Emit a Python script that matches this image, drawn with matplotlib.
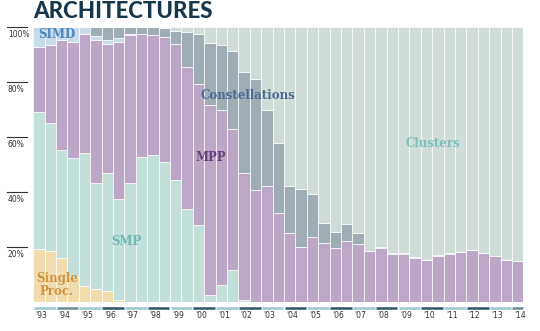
import matplotlib
matplotlib.use("Agg")
import matplotlib.pyplot as plt
import numpy as np

years = ["'93", "'94", "'95", "'96", "'97", "'98", "'99", "'00", "'01", "'02", "'03",
         "'04", "'05", "'06", "'07", "'08", "'09", "'10", "'11", "'12", "'13", "'14"]

single = [19.2, 18.3, 15.8, 8.9, 5.6, 4.4, 3.7, 0.7, 0, 0, 0,
          0, 0, 0, 0, 0, 0, 0, 0, 0, 0, 0,
          0, 0, 0, 0, 0, 0, 0, 0, 0, 0, 0,
          0, 0, 0, 0, 0, 0, 0, 0, 0, 0]
smp = [49.8, 46.7, 39.4, 43.4, 48.5, 38.6, 43.2, 36.5, 43.0, 52.6, 53.2,
       50.8, 44.1, 33.8, 27.7, 2.2, 6.1, 11.4, 0.7, 0, 0, 0,
       0, 0, 0, 0, 0, 0, 0, 0, 0, 0, 0,
       0, 0, 0, 0, 0, 0, 0, 0, 0, 0]
mpp = [23.7, 28.6, 40.2, 42.3, 43.5, 52.4, 46.8, 57.4, 54.0, 45.0, 43.8,
       45.6, 49.6, 51.6, 51.4, 69.3, 63.8, 51.3, 46.2, 40.5, 42.1, 32.4,
       25.1, 19.7, 23.4, 21.3, 19.5, 21.9, 20.8, 18.3, 19.6, 17.4, 17.4,
       16.0, 15.0, 16.5, 17.4, 18.0, 18.6, 17.8, 16.6, 15.2, 14.8]
simd = [7.3, 6.4, 4.6, 5.4, 2.4, 1.3, 1.5, 1.5, 0.5, 0, 0,
        0, 0, 0, 0, 0, 0, 0, 0, 0, 0, 0,
        0, 0, 0, 0, 0, 0, 0, 0, 0, 0, 0,
        0, 0, 0, 0, 0, 0, 0, 0, 0, 0]
constellations = [0, 0, 0, 0, 0, 3.3, 4.8, 3.9, 2.5, 2.4, 3.0,
                  3.2, 4.9, 12.8, 18.3, 22.8, 23.4, 28.6, 36.7, 40.7, 27.8, 25.5,
                  17.0, 21.4, 15.6, 7.2, 5.8, 6.2, 4.2, 0.2, 0.3, 0.3, 0.2,
                  0.3, 0, 0.3, 0.2, 0, 0, 0, 0, 0, 0]
clusters = [0, 0, 0, 0, 0, 0, 0, 0, 0, 0, 0,
            0.4, 1.4, 1.8, 2.6, 5.7, 6.7, 8.7, 16.4, 18.8, 30.1, 42.1,
            57.9, 58.9, 61.0, 71.5, 74.7, 71.9, 75.0, 81.5, 80.1, 82.3, 82.4,
            83.7, 85.0, 83.2, 82.4, 82.0, 81.4, 82.2, 83.4, 84.8, 85.2]

series = [
    ("Single\nProc.", single, "#f1dcae", "#d09440"),
    ("SMP", smp, "#c3dfd9", "#6cb9b1"),
    ("MPP", mpp, "#bca8c6", "#6b3c7e"),
    ("SIMD", simd, "#c7dbe8", "#4d86c2"),
    ("Constellations", constellations, "#a0adb5", "#4b6b92"),
    ("Clusters", clusters, "#cfdcd8", "#7cbfb8"),
]

fig = plt.figure(figsize=(5.4, 3.31), dpi=100)
ax = fig.add_axes([33.3 / 540, 1 - 301.5 / 331, 490 / 540, 274.5 / 331])

x = np.arange(len(mpp))
bottom = np.zeros(len(x))
for name, vals, col, _ in series:
    v = np.array(vals, dtype=float)
    ax.bar(x, v, bottom=bottom, width=1.0, color=col, edgecolor="white",
           linewidth=0.5)
    bottom += v

ax.set_xlim(-0.5, len(x) - 0.5)
ax.set_ylim(0, 100)
for s in ax.spines.values():
    s.set_visible(False)
ax.set_xticks([])
ax.set_yticks([])

narrow = ["Liberation Sans Narrow", "DejaVu Sans"]

# y-axis labels with short lines
ytr = ax.get_yaxis_transform()
for v in [20, 40, 60, 80, 100]:
    ax.plot([-26.3 / 490, -6.3 / 490], [v, v], transform=ytr, color="#333333",
            lw=0.8, clip_on=False)
    ax.annotate(f"{v}%", xy=(-25.5 / 490, v), xycoords=ytr, xytext=(0, -5.6),
                textcoords="offset points", ha="left", va="center",
                fontsize=5.5, color="#333333", family=narrow)

# year segments and labels
xtr = ax.get_xaxis_transform()
for i, yl in enumerate(years):
    if yl in ("'94", "'14"):
        c = "#6f8c96"
    elif i % 2 == 0:
        c = "#9cc6d2"
    else:
        c = "#2f5666"
    x0 = 2 * i - 0.45
    x1 = min(2 * i + 1.45, len(x) - 0.5)
    ax.plot([x0, x1], [-6.5 / 274.5, -6.5 / 274.5], transform=xtr, color=c,
            lw=1.8, solid_capstyle="butt", clip_on=False)
    ax.text(2 * i - 0.3, -14.5 / 274.5, yl, transform=xtr, ha="left",
            va="center", fontsize=5.5, color="#333333", family=narrow)

# series labels
label_pos = {
    "Single\nProc.": (1.58, 6.0),
    "SMP": (7.64, 21.7),
    "MPP": (15.1, 52.6),
    "SIMD": (1.58, 97.1),
    "Constellations": (18.3, 74.9),
    "Clusters": (34.6, 57.7),
}
for name, _, _, tc in series:
    px, py = label_pos[name]
    ax.text(px, py, name, ha="center", va="center", fontsize=8.5,
            fontweight="bold", color=tc, family="DejaVu Serif",
            linespacing=0.95)

fig.text(33 / 540, 1 - 11 / 331, "ARCHITECTURES", ha="left", va="center",
         fontsize=16, fontweight="black", color="#17384c", family="Lato")

fig.savefig("out.png", dpi=100)
